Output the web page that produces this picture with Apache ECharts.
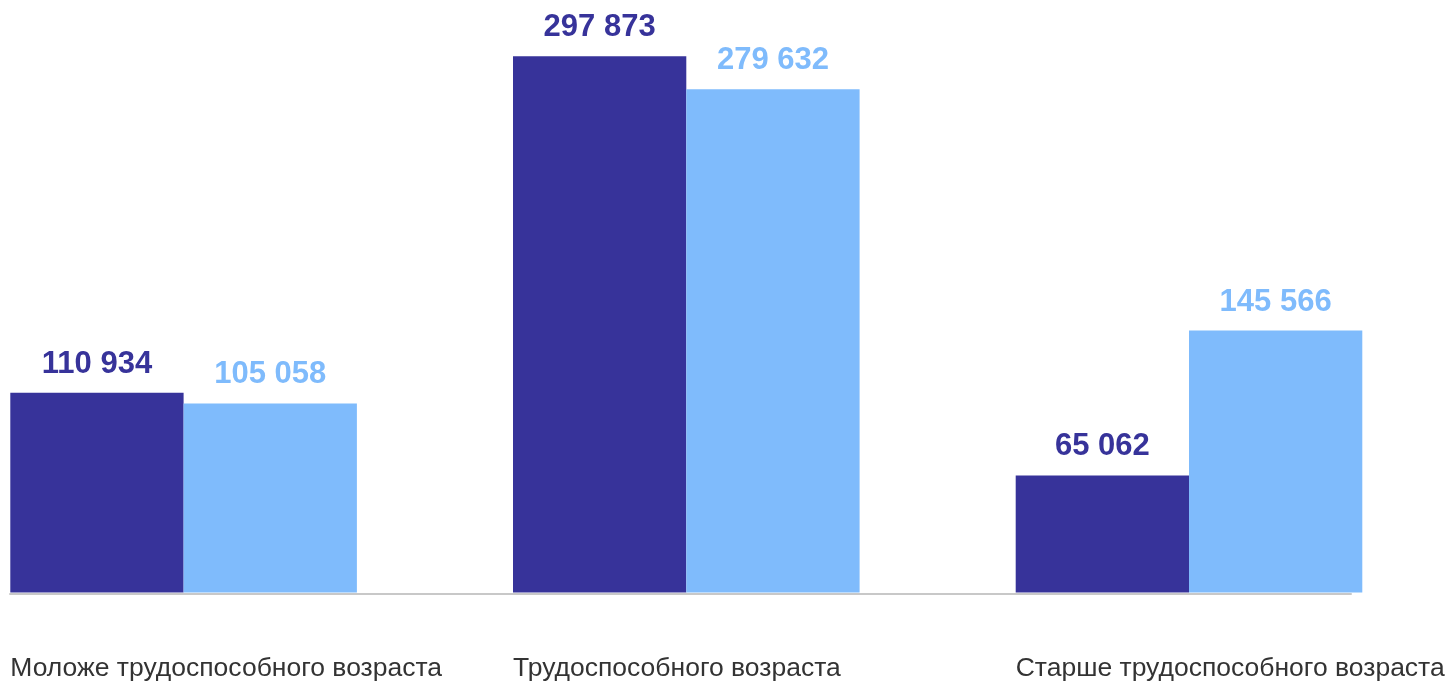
<!DOCTYPE html>
<html>
<head>
<meta charset="utf-8">
<script src="https://cdn.jsdelivr.net/npm/echarts@6/dist/echarts.min.js"></script>
<style>
html,body{margin:0;padding:0;background:#fff;}
#chart{width:1452px;height:685px;}
</style>
</head>
<body>
<div id="chart"></div>
<script>
const categories = ['Моложе трудоспособного возраста', 'Трудоспособного возраста', 'Старше трудоспособного возраста'];
const seriesA = [110934, 297873, 65062];
const seriesB = [105058, 279632, 145566];
const colorA = '#37339a';
const colorB = '#7fbbfc';

function fmt(v) {
  return String(v).replace(/\B(?=(\d{3})+(?!\d))/g, ' ');
}

const chart = echarts.init(document.getElementById('chart'));
const labelCommon = {
  show: true,
  position: 'top',
  distance: 13,
  fontSize: 31,
  fontWeight: 'bold',
  fontFamily: 'Liberation Sans, Arial, sans-serif',
  formatter: p => fmt(p.value)
};
chart.setOption({
  animation: false,
  grid: [
    { left: 10.3, width: 1005.4, top: 52.5, height: 540 },
    { left: 10, width: 1341, top: 500, bottom: 91 }
  ],
  xAxis: [
    {
      type: 'category', gridIndex: 0, data: categories, boundaryGap: false,
      axisLine: { show: false }, axisTick: { show: false }, splitLine: { show: false },
      axisLabel: {
        interval: 0, align: 'left', margin: 63, fontSize: 26.5, color: '#333333',
        fontFamily: 'Liberation Sans, Arial, sans-serif'
      }
    },
    {
      type: 'value', gridIndex: 1, min: 0, max: 1,
      axisLine: { show: true, lineStyle: { color: '#c8c8c8', width: 2 } },
      axisTick: { show: false }, axisLabel: { show: false }, splitLine: { show: false }
    }
  ],
  yAxis: [
    { type: 'value', gridIndex: 0, min: 0, max: 300000, show: false, splitLine: { show: false } },
    { type: 'value', gridIndex: 1, min: 0, max: 1, show: false, splitLine: { show: false } }
  ],
  series: [
    {
      name: 'spacer', type: 'bar', xAxisIndex: 0, yAxisIndex: 0,
      data: categories.map(() => '-'),
      barWidth: 346.6, barGap: 0, silent: true, clip: false,
      itemStyle: { color: 'rgba(0,0,0,0)' }
    },
    {
      name: 'A', type: 'bar', xAxisIndex: 0, yAxisIndex: 0, data: seriesA,
      barWidth: 173.3, barGap: 0, clip: false,
      itemStyle: { color: colorA },
      label: Object.assign({}, labelCommon, { color: colorA })
    },
    {
      name: 'B', type: 'bar', xAxisIndex: 0, yAxisIndex: 0, data: seriesB,
      barWidth: 173.3, barGap: 0, clip: false,
      itemStyle: { color: colorB },
      label: Object.assign({}, labelCommon, { color: colorB })
    }
  ]
});
</script>
</body>
</html>
